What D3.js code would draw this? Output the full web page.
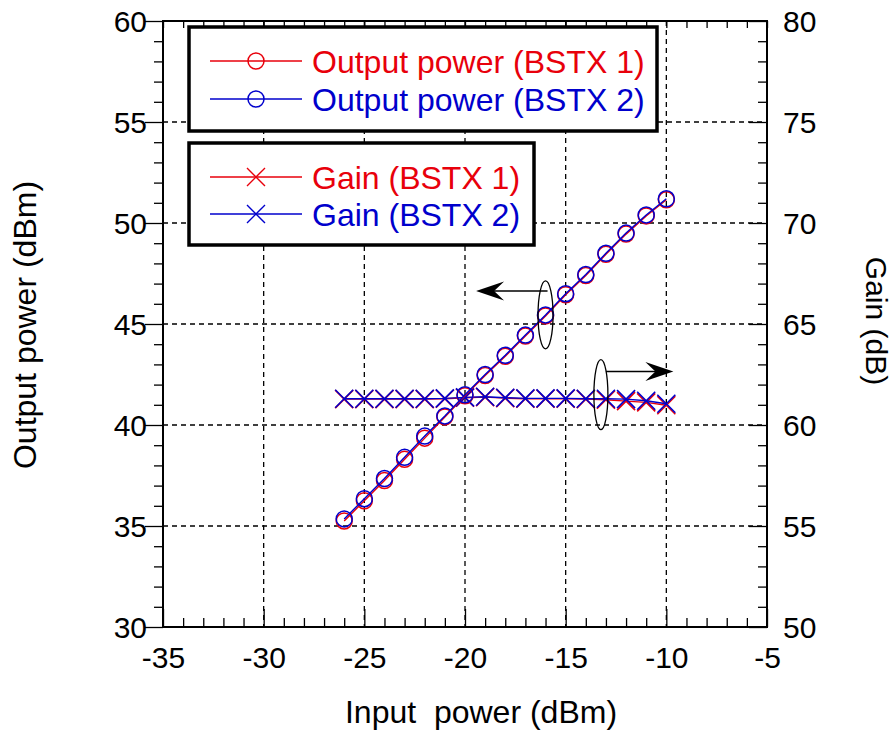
<!DOCTYPE html>
<html><head><meta charset="utf-8">
<script src="https://cdn.jsdelivr.net/npm/d3@7"></script>
<style>
html,body{margin:0;padding:0;background:#fff;}
svg{display:block;font-family:"Liberation Sans",Arial,sans-serif;}
</style></head>
<body>
<svg id="chart" width="896" height="733"></svg>
<script>
// ---- data ----
const inputPower = [-26,-25,-24,-23,-22,-21,-20,-19,-18,-17,-16,-15,-14,-13,-12,-11,-10];
const poutBSTX1 = [35.25,36.25,37.25,38.3,39.35,40.4,41.45,42.45,43.4,44.4,45.4,46.45,47.4,48.45,49.45,50.35,51.15];
const poutBSTX2 = [35.35,36.35,37.35,38.4,39.45,40.45,41.5,42.5,43.45,44.45,45.45,46.5,47.45,48.5,49.5,50.4,51.2];
const gainBSTX1 = [61.28,61.28,61.28,61.28,61.28,61.3,61.35,61.38,61.33,61.3,61.3,61.3,61.28,61.25,61.18,61.12,60.98];
const gainBSTX2 = [61.3,61.3,61.3,61.3,61.3,61.32,61.37,61.4,61.35,61.32,61.32,61.32,61.3,61.3,61.28,61.2,61.05];
const xTicks = [-35,-30,-25,-20,-15,-10,-5];
const yLeftTicks = [30,35,40,45,50,55,60];
const yRightTicks = [50,55,60,65,70,75,80];
const legendPower = ["Output power (BSTX 1)","Output power (BSTX 2)"];
const legendGain = ["Gain (BSTX 1)","Gain (BSTX 2)"];
const seriesColors = ["#e8000b","#0000cc"];

const svg = d3.select("#chart");
const L=163,R=767,T=21,B=627;
const x = d3.scaleLinear().domain([-35,-5]).range([L,R]);
const yL = d3.scaleLinear().domain([30,60]).range([B,T]);
const yR = d3.scaleLinear().domain([50,80]).range([B,T]);

// grid
const g = svg.append("g");
g.selectAll(".vg").data(xTicks.slice(1,-1)).join("line")
  .attr("x1",d=>x(d)).attr("x2",d=>x(d)).attr("y1",T).attr("y2",B)
  .attr("stroke","#000").attr("stroke-width",1.3).attr("stroke-dasharray","5,4");
g.selectAll(".hg").data(yLeftTicks.slice(1,-1)).join("line")
  .attr("x1",L).attr("x2",R).attr("y1",d=>yL(d)).attr("y2",d=>yL(d))
  .attr("stroke","#000").attr("stroke-width",1.3).attr("stroke-dasharray","5,4");

// axes
const minorX = d3.range(-35,-4,1);
const minorY = d3.range(30,61,1);
const minorYR = d3.range(50,81,1);
function styleAxis(sel){
  sel.select(".domain").remove();
  sel.selectAll(".tick line").attr("stroke","#000").attr("stroke-width",1.3);
  sel.selectAll("text").attr("font-size",30).attr("fill","#000").attr("font-family","Liberation Sans, Arial, sans-serif");
}
const fmt = d => (d%5===0 ? String(d) : "");
const ax1 = svg.append("g").attr("transform",`translate(0,${B})`)
  .call(d3.axisBottom(x).tickValues(minorX).tickSizeInner(-9).tickSizeOuter(0).tickPadding(41).tickFormat(fmt));
styleAxis(ax1);
ax1.selectAll(".tick line").attr("y2",d=>d%5===0?-18:-9);
ax1.selectAll(".tick text").attr("dy","0");
const ax2 = svg.append("g").attr("transform",`translate(0,${T})`)
  .call(d3.axisTop(x).tickValues(minorX).tickSizeInner(-7).tickSizeOuter(0).tickFormat(""));
styleAxis(ax2);
const ax3 = svg.append("g").attr("transform",`translate(${L},0)`)
  .call(d3.axisLeft(yL).tickValues(minorY).tickSizeInner(-9).tickSizeOuter(0).tickPadding(16).tickFormat(fmt));
styleAxis(ax3);
ax3.selectAll(".tick line").attr("x2",d=>d%5===0?-18:-9);
ax3.selectAll(".tick text").attr("dy","0.36em");
const ax4 = svg.append("g").attr("transform",`translate(${R},0)`)
  .call(d3.axisRight(yR).tickValues(minorYR).tickSizeInner(-9).tickSizeOuter(0).tickPadding(16).tickFormat(fmt));
styleAxis(ax4);
ax4.selectAll(".tick line").attr("x2",d=>d%5===0?-18:-9);
ax4.selectAll(".tick text").attr("dy","0.36em");

// frame
svg.append("rect").attr("x",L).attr("y",T).attr("width",R-L).attr("height",B-T)
  .attr("fill","none").attr("stroke","#000").attr("stroke-width",2);

// axis titles
svg.append("text").attr("x",481).attr("y",723).attr("text-anchor","middle")
  .attr("font-size",32).attr("fill","#000").attr("xml:space","preserve").text("Input  power (dBm)");
svg.append("text").attr("transform","translate(36,325) rotate(-90)").attr("text-anchor","middle")
  .attr("font-size",32).attr("fill","#000").text("Output power (dBm)");
svg.append("text").attr("transform","translate(866,321) rotate(90)").attr("text-anchor","middle")
  .attr("font-size",30).attr("fill","#000").text("Gain (dB)");

// series
function drawSeries(yArr, scale, color, marker){
  const pts = inputPower.map((d,i)=>[x(d), scale(yArr[i])]);
  svg.append("path").attr("d",d3.line()(pts)).attr("fill","none")
    .attr("stroke",color).attr("stroke-width",1.4);
  const m = svg.append("g");
  pts.forEach(p=>{
    if(marker==="circle"){
      m.append("circle").attr("cx",p[0]).attr("cy",p[1]).attr("r",8)
        .attr("fill","none").attr("stroke",color).attr("stroke-width",1.5);
    } else {
      const s=9;
      m.append("path").attr("d",`M${p[0]-s},${p[1]-s}L${p[0]+s},${p[1]+s}M${p[0]-s},${p[1]+s}L${p[0]+s},${p[1]-s}`)
        .attr("stroke",color).attr("stroke-width",1.6).attr("fill","none");
    }
  });
}
drawSeries(gainBSTX1, yR, seriesColors[0], "cross");
drawSeries(gainBSTX2, yR, seriesColors[1], "cross");
drawSeries(poutBSTX1, yL, seriesColors[0], "circle");
drawSeries(poutBSTX2, yL, seriesColors[1], "circle");

// annotations (data coordinates)
const ellipsePower = {x:-16, y:45.45, rx:7.5, ry:34};
const arrowPower = {x1:-15.9, x2:-19.45, y:46.63};
const ellipseGain = {x:-13.25, y:61.5, rx:7, ry:35};
const arrowGain = {x1:-13.0, x2:-9.65, y:62.65};
svg.append("ellipse").attr("cx",x(ellipsePower.x)).attr("cy",yL(ellipsePower.y))
  .attr("rx",ellipsePower.rx).attr("ry",ellipsePower.ry).attr("fill","none").attr("stroke","#000").attr("stroke-width",1.3);
svg.append("ellipse").attr("cx",x(ellipseGain.x)).attr("cy",yR(ellipseGain.y))
  .attr("rx",ellipseGain.rx).attr("ry",ellipseGain.ry).attr("fill","none").attr("stroke","#000").attr("stroke-width",1.3);
function arrow(x1,x2,y){
  const dir = Math.sign(x2-x1);
  svg.append("line").attr("x1",x1).attr("x2",x2-dir*12).attr("y1",y).attr("y2",y)
    .attr("stroke","#000").attr("stroke-width",1.4);
  const hl=28, hw=9.5, notch=18;
  svg.append("path").attr("d",`M${x2},${y}L${x2-dir*hl},${y-hw}L${x2-dir*notch},${y}L${x2-dir*hl},${y+hw}Z`)
    .attr("fill","#000");
}
arrow(x(arrowPower.x1), x(arrowPower.x2), yL(arrowPower.y));
arrow(x(arrowGain.x1), x(arrowGain.x2), yR(arrowGain.y));

// legends
function legendBox(bx,by,bw,bh,labels,marker,rowYs){
  svg.append("rect").attr("x",bx).attr("y",by).attr("width",bw).attr("height",bh)
    .attr("fill","#fff").attr("stroke","#000").attr("stroke-width",3.5);
  labels.forEach((lab,i)=>{
    const cy = rowYs[i];
    const c = seriesColors[i];
    svg.append("line").attr("x1",210).attr("x2",302).attr("y1",cy).attr("y2",cy)
      .attr("stroke",c).attr("stroke-width",1.4);
    if(marker==="circle"){
      svg.append("circle").attr("cx",256).attr("cy",cy).attr("r",8)
        .attr("fill","none").attr("stroke",c).attr("stroke-width",1.5);
    } else {
      const s=9;
      svg.append("path").attr("d",`M${256-s},${cy-s}L${256+s},${cy+s}M${256-s},${cy+s}L${256+s},${cy-s}`)
        .attr("stroke",c).attr("stroke-width",1.4);
    }
    svg.append("text").attr("x",312).attr("y",cy+11.5).attr("font-size",32)
      .attr("fill",c).text(lab);
  });
}
legendBox(189,27,468,104,legendPower,"circle",[61,99]);
legendBox(189,143,345,102,legendGain,"cross",[177,214]);
</script>
</body></html>
